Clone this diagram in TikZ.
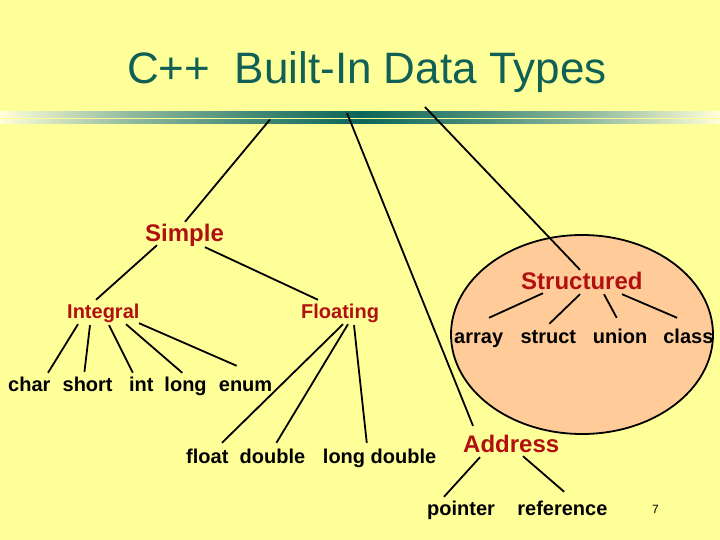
\documentclass[tikz,border=0pt]{standalone}
\usepackage{fontspec}
\setmainfont{Liberation Sans}
\usetikzlibrary{positioning}

\definecolor{slidebg}{HTML}{FFFF99}
\definecolor{peach}{HTML}{FFCC99}
\definecolor{typered}{HTML}{B01010}
\definecolor{titleteal}{HTML}{106056}
\definecolor{bardark}{HTML}{0B6659}
\definecolor{barlight}{HTML}{FFFFD8}
\pgfdeclarehorizontalshading{barshade}{100bp}{color(0bp)=(barlight); color(25bp)=(barlight);
  color(34bp)=(barlight!55!bardark); color(42bp)=(barlight!25!bardark); color(50bp)=(bardark);
  color(58bp)=(barlight!25!bardark); color(66bp)=(barlight!55!bardark); color(75bp)=(barlight); color(100bp)=(barlight)}

\begin{document}
\begin{tikzpicture}[
  x=1pt, y=-1pt,
  cat/.style={text=typered, font=\fontsize{20}{24}\selectfont\bfseries, inner sep=0pt, text height=15pt, text depth=4pt, anchor=base west},
  bigcat/.style={cat, font=\fontsize{24}{28}\selectfont\bfseries, text height=18pt, text depth=5pt},
  leaf/.style={cat, text=black},
  branch/.style={line width=1.8pt}
]
\useasboundingbox (0,0) rectangle (720,540);
\fill[slidebg] (0,0) rectangle (720,540);

% title and bar
\node[anchor=base west, inner sep=0pt, text=titleteal, font=\fontsize{44}{50}\selectfont] (title) at (127,84) {C++\ \ Built-In Data Types};
\shade[shading=barshade] (0,112) rectangle (720,117.5);
\shade[shading=barshade] (0,119.5) rectangle (720,124);
\coordinate (topL) at (270,119.5);
\coordinate (topM) at (347,113);
\coordinate (topR) at (425,107);

% structured group
\fill[peach, draw=black, line width=1.8pt] (582,334.5) ellipse [x radius=131, y radius=99.5];

% categories
\node[bigcat] (simple) at (145,241) {Simple};
\node[cat] (integral) at (67,318) {Integral};
\node[cat] (floating) at (301,318) {Floating};
\node[bigcat] (structured) at (521,289) {Structured};
\node[bigcat] (address) at (463,452) {Address};

% leaves
\node[leaf] (char) at (8,391) {char};
\node[leaf, base right=11.8pt of char] (short) {short};
\node[leaf, base right=16pt of short] (int) {int};
\node[leaf, base right=10.6pt of int] (long) {long};
\node[leaf, base right=11.8pt of long] (enum) {enum};

\node[leaf] (float) at (186,463) {float};
\node[leaf, base right=10.8pt of float] (double) {double};
\node[leaf, base right=17.4pt of double] (longdouble) {long double};

\node[leaf] (array) at (454,343) {array};
\node[leaf, base right=17pt of array] (struct) {struct};
\node[leaf, base right=16.4pt of struct] (union) {union};
\node[leaf, base right=15.6pt of union] (class) {class};

\node[leaf] (pointer) at (427,515) {pointer};
\node[leaf, base right=22pt of pointer] (reference) {reference};

\node[anchor=base west, inner sep=0pt, font=\fontsize{12}{14}\selectfont] (page) at (652,513) {7};

% branches
\draw[branch] (topL) -- ([xshift=40pt,yshift=1pt]simple.north west);
\draw[branch] (topM) -- ([xshift=10pt,yshift=8pt]address.north west);
\draw[branch] (topR) -- ([xshift=59pt,yshift=1pt]structured.north west);

\draw[branch] ([xshift=12pt,yshift=1pt]simple.south west) -- ([xshift=29pt,yshift=3pt]integral.north west);
\draw[branch] ([xshift=60pt,yshift=-1pt]simple.south west) -- ([xshift=17pt,yshift=3pt]floating.north west);

\draw[branch] ([xshift=11pt,yshift=-2pt]integral.south west) -- ([xshift=40pt,yshift=3pt]char.north west);
\draw[branch] ([xshift=23pt,yshift=-3pt]integral.south west) -- ([xshift=22pt,yshift=4pt]short.north west);
\draw[branch] ([xshift=42pt,yshift=-3pt]integral.south west) -- ([xshift=4pt,yshift=3pt]int.north west);
\draw[branch] ([xshift=59pt,yshift=-2pt]integral.south west) -- ([xshift=18pt,yshift=3pt]long.north west);
\draw[branch] ([xshift=72pt,yshift=-1pt]integral.south west) -- ([xshift=18pt,yshift=10pt]enum.north west);

\draw[branch] ([xshift=42pt,yshift=-2pt]floating.south west) -- ([xshift=36pt,yshift=5pt]float.north west);
\draw[branch] ([xshift=47pt,yshift=-2pt]floating.south west) -- ([xshift=37pt,yshift=5pt]double.north west);
\draw[branch] ([xshift=53pt,yshift=-3pt]floating.south west) -- ([xshift=44pt,yshift=5pt]longdouble.north west);

\draw[branch] ([xshift=22pt,yshift=1pt]structured.south west) -- ([xshift=35pt,yshift=10pt]array.north west);
\draw[branch] ([xshift=59pt]structured.south west) -- ([xshift=29pt,yshift=4pt]struct.north west);
\draw[branch] ([xshift=83pt]structured.south west) -- ([xshift=24pt,yshift=10pt]union.north west);
\draw[branch] ([xshift=101pt]structured.south west) -- ([xshift=14pt,yshift=10pt]class.north west);

\draw[branch] ([xshift=17pt]address.south west) -- ([xshift=17pt,yshift=3pt]pointer.north west);
\draw[branch] ([xshift=60pt,yshift=1pt]address.south west) -- ([xshift=47pt,yshift=8pt]reference.north west);
\end{tikzpicture}
\end{document}
